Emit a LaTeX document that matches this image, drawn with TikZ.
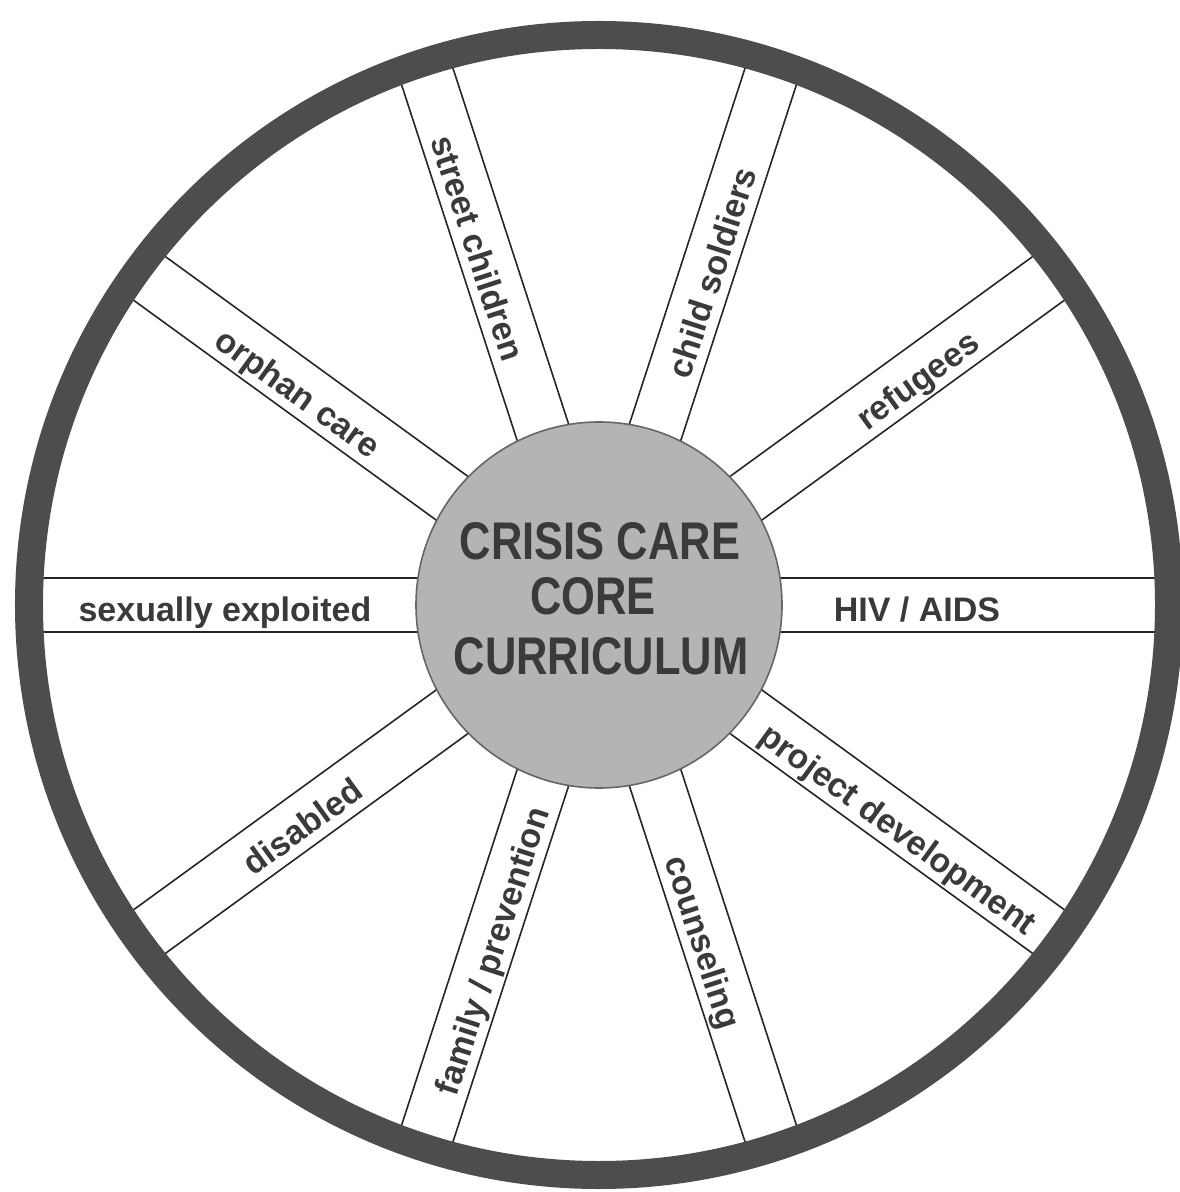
\documentclass[tikz,border=0pt]{standalone}
\usepackage{fontspec}
\setmainfont{Liberation Sans}
\definecolor{ringgray}{HTML}{4D4D4D}
\definecolor{hubgray}{HTML}{B4B4B4}
\definecolor{inkgray}{HTML}{3A3A3A}
\begin{document}
\begin{tikzpicture}[x=0.5pt,y=0.5pt,
  spokeline/.style={line width=0.8pt, draw=black!85},
  spokelabel/.style={font=\fontsize{17}{17}\selectfont\bfseries, text=inkgray, inner sep=0pt, text height=17pt, text depth=0pt},
  hubtext/.style={font=\fontsize{26.5}{26.5}\selectfont\bfseries, text=inkgray, inner sep=0pt, xscale=0.82, anchor=base},
  hubdisc/.style={circle, fill=hubgray, draw=black!60, line width=0.8pt, minimum size=183pt, inner sep=0pt},
  outerring/.style={draw=ringgray, line width=14pt}]
\useasboundingbox (-599,-587) rectangle (580,605);
\fill[white] (-599,-587) rectangle (580,605);
% spokes
\foreach \a [evaluate=\a as \p using \a+90, evaluate=\a as \m using \a-90] in {0,36,...,324} {
  \draw[spokeline] (\a:100) ++(\p:27) -- ++(\a:480);
  \draw[spokeline] (\a:100) ++(\m:27) -- ++(\a:480);
}
% hub
\node[hubdisc] (hub) at (0,0) {};
\node[hubtext] (t1) at (1,45) {CRISIS CARE};
\node[hubtext] (t2) at (-6,-10) {CORE};
\node[hubtext] (t3) at (2,-70) {CURRICULUM};
% outer ring
\draw[outerring] (0,0) circle (570);
% labels
\node[spokelabel, rotate=0]   (hiv)  at (0:318)   {HIV / AIDS};
\node[spokelabel, rotate=36]  (ref)  at (36:390)  {refugees};
\node[spokelabel, rotate=72]  (cs)   at (72:351)  {child soldiers};
\node[spokelabel, rotate=-72] (sc)   at (108:377) {street children};
\node[spokelabel, rotate=-36] (oc)   at (144:368) {orphan care};
\node[spokelabel, rotate=0]   (se)   at (180:374) {sexually exploited};
\node[spokelabel, rotate=36]  (dis)  at (216:370) {disabled};
\node[spokelabel, rotate=72]  (fam)  at (252:362) {family / prevention};
\node[spokelabel, rotate=-72] (cou)  at (288:353) {counseling};
\node[spokelabel, rotate=-36] (pd)   at (324:374) {project development};
\end{tikzpicture}
\end{document}
